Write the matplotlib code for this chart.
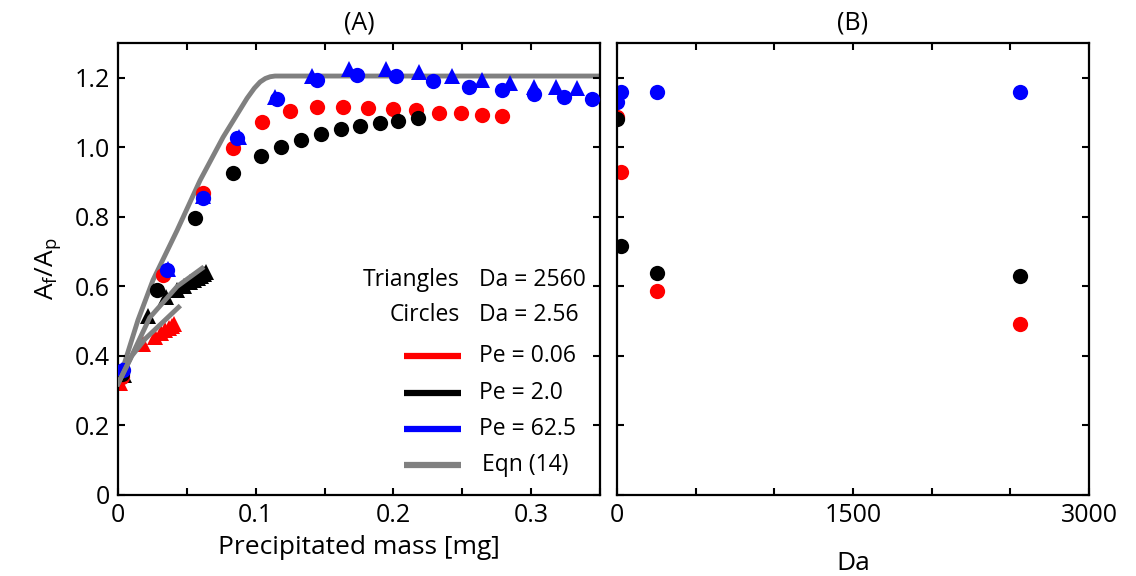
import matplotlib
matplotlib.use("Agg")
import matplotlib.pyplot as plt
from matplotlib.ticker import MultipleLocator, FixedLocator

plt.rcParams["font.family"] = ["Open Sans", "DejaVu Sans"]
plt.rcParams["mathtext.fontset"] = "custom"
plt.rcParams["mathtext.rm"] = "Open Sans"
plt.rcParams["mathtext.it"] = "Open Sans"
plt.rcParams["xtick.labelsize"] = 18
plt.rcParams["ytick.labelsize"] = 18

RED, BLACK, BLUE, GRAY = "#ff0000", "#000000", "#0000ff", "#808080"

# ---- Panel A: circles (Da = 2.56) ----
red_circ_x = [0.003, 0.0327, 0.0618, 0.0836, 0.1047, 0.125, 0.1446, 0.1635, 0.1817,
              0.1999, 0.2166, 0.2333, 0.2493, 0.2645, 0.279]
red_circ_y = [0.34, 0.632, 0.868, 0.997, 1.072, 1.103, 1.115, 1.115, 1.112,
              1.109, 1.106, 1.100, 1.098, 1.092, 1.089]
black_circ_x = [0.003, 0.028, 0.056, 0.0836, 0.104, 0.118, 0.133, 0.1475, 0.162,
                0.176, 0.190, 0.2035, 0.2175]
black_circ_y = [0.348, 0.589, 0.796, 0.925, 0.974, 1.0, 1.022, 1.037, 1.052,
                1.06, 1.069, 1.075, 1.083]
blue_circ_x = [0.0036, 0.0356, 0.0618, 0.0865, 0.1155, 0.1446, 0.1737, 0.202,
               0.229, 0.255, 0.279, 0.302, 0.324, 0.3445]
blue_circ_y = [0.36, 0.647, 0.853, 1.026, 1.138, 1.195, 1.207, 1.204,
               1.19, 1.173, 1.164, 1.152, 1.144, 1.138]

# ---- Panel A: triangles (Da = 2560) ----
red_tri_x = [0.0015, 0.018, 0.027, 0.031, 0.034, 0.037, 0.039, 0.041]
red_tri_y = [0.322, 0.434, 0.454, 0.466, 0.474, 0.480, 0.486, 0.491]
black_tri_x = [0.004, 0.0218, 0.0349, 0.0429, 0.048, 0.0523, 0.0552, 0.0581, 0.0603, 0.0625, 0.064]
black_tri_y = [0.345, 0.514, 0.569, 0.589, 0.601, 0.612, 0.618, 0.624, 0.63, 0.635, 0.641]
blue_tri_x = [0.003, 0.036, 0.062, 0.0875, 0.114, 0.141, 0.168, 0.1948, 0.2188,
              0.2427, 0.2645, 0.285, 0.302, 0.318, 0.333]
blue_tri_y = [0.36, 0.65, 0.86, 1.03, 1.144, 1.205, 1.226, 1.226, 1.216,
              1.204, 1.193, 1.184, 1.173, 1.173, 1.17]

# ---- Eqn (14) curves ----
eqn_main_x = [0, 0.0145, 0.0254, 0.0429, 0.0596, 0.0763, 0.0937, 0.099, 0.1032,
              0.107, 0.1105, 0.114, 0.35]
eqn_main_y = [0.32, 0.503, 0.618, 0.761, 0.905, 1.029, 1.141, 1.170, 1.188,
              1.198, 1.203, 1.205, 1.205]
eqn_pe2_x = [0, 0.0087, 0.023, 0.043, 0.061]
eqn_pe2_y = [0.32, 0.39, 0.51, 0.60, 0.652]
eqn_pe006_x = [0, 0.01, 0.02, 0.044]
eqn_pe006_y = [0.32, 0.40, 0.45, 0.54]

# ---- Panel B: final ratio vs Da ----
da = [2.56, 25.6, 256, 2560]
red_da = [1.087, 0.928, 0.586, 0.491]
black_da = [1.08, 0.716, 0.638, 0.629]
blue_da = [1.13, 1.158, 1.158, 1.158]

y_ticks = [0, 0.2, 0.4, 0.6, 0.8, 1.0, 1.2]
y_labels = ["0", "0.2", "0.4", "0.6", "0.8", "1.0", "1.2"]

fig = plt.figure(figsize=(11.36, 5.76), dpi=100)
axA = fig.add_axes([118 / 1136, 81 / 576, 482 / 1136, 452 / 576])
axB = fig.add_axes([617 / 1136, 81 / 576, 472 / 1136, 452 / 576])

ms = 11
# gray main curve under the markers
axA.plot(eqn_main_x, eqn_main_y, color=GRAY, lw=3.5, zorder=1)

for xs, ys, c in [(red_tri_x, red_tri_y, RED), (black_tri_x, black_tri_y, BLACK),
                  (blue_tri_x, blue_tri_y, BLUE)]:
    axA.plot(xs, ys, "^", color=c, ms=ms, mew=0, zorder=2)
for xs, ys, c in [(red_circ_x, red_circ_y, RED), (black_circ_x, black_circ_y, BLACK),
                  (blue_circ_x, blue_circ_y, BLUE)]:
    axA.plot(xs, ys, "o", color=c, ms=ms, mew=0, zorder=3)

axA.plot(eqn_pe2_x, eqn_pe2_y, color=GRAY, lw=3.5, zorder=4)
axA.plot(eqn_pe006_x, eqn_pe006_y, color=GRAY, lw=3.5, zorder=4)

axB.plot(da, red_da, "o", color=RED, ms=ms, mew=0)
axB.plot(da, black_da, "o", color=BLACK, ms=ms, mew=0)
axB.plot(da, blue_da, "o", color=BLUE, ms=ms, mew=0)

# ---- axes styling ----
fs = 18
for ax in (axA, axB):
    ax.set_ylim(0, 1.3)
    ax.yaxis.set_major_locator(FixedLocator(y_ticks))
    for s in ax.spines.values():
        s.set_linewidth(1.6)
    ax.tick_params(which="both", direction="in", top=True, right=True,
                   length=5, width=1.5, pad=6)

axA.set_xlim(0, 0.35)
axA.xaxis.set_major_locator(FixedLocator([0, 0.1, 0.2, 0.3]))
axA.xaxis.set_minor_locator(MultipleLocator(0.05))
axA.set_xticklabels(["0", "0.1", "0.2", "0.3"], fontsize=fs)
axA.set_yticklabels(y_labels, fontsize=fs)
axA.set_xlabel("Precipitated mass [mg]", fontsize=19, labelpad=5)
axA.set_ylabel(r"$\mathregular{A_f/A_p}$", fontsize=19, labelpad=8)
axA.set_title("(A)", fontsize=fs, pad=10)

axB.set_xlim(0, 3000)
axB.xaxis.set_major_locator(FixedLocator([0, 1500, 3000]))
axB.xaxis.set_minor_locator(MultipleLocator(500))
axB.set_xticklabels(["0", "1500", "3000"], fontsize=fs)
axB.tick_params(axis="y", labelleft=False)
axB.set_xlabel("Da", fontsize=19, labelpad=16)
axB.set_title("(B)", fontsize=fs, pad=10)

# ---- legend drawn inside panel A ----
lfs = 16.5
tr = axA.transAxes
axA.text(0.7095, 0.476, "Triangles", transform=tr, ha="right", va="center", fontsize=lfs)
axA.text(0.749, 0.476, "Da = 2560", transform=tr, ha="left", va="center", fontsize=lfs)
axA.text(0.7095, 0.398, "Circles", transform=tr, ha="right", va="center", fontsize=lfs)
axA.text(0.749, 0.398, "Da = 2.56", transform=tr, ha="left", va="center", fontsize=lfs)
entries = [(RED, "Pe = 0.06", 0.3075), (BLACK, "Pe = 2.0", 0.2257),
           (BLUE, "Pe = 62.5", 0.146), (GRAY, "Eqn (14)", 0.0664)]
for c, lab, fy in entries:
    axA.plot([0.593, 0.712], [fy, fy], color=c, lw=4.5, transform=tr, clip_on=False,
             solid_capstyle="butt")
    axA.text(0.749 if lab != "Eqn (14)" else 0.755, fy, lab, transform=tr,
             ha="left", va="center", fontsize=lfs)

fig.savefig("out.png", dpi=100)
